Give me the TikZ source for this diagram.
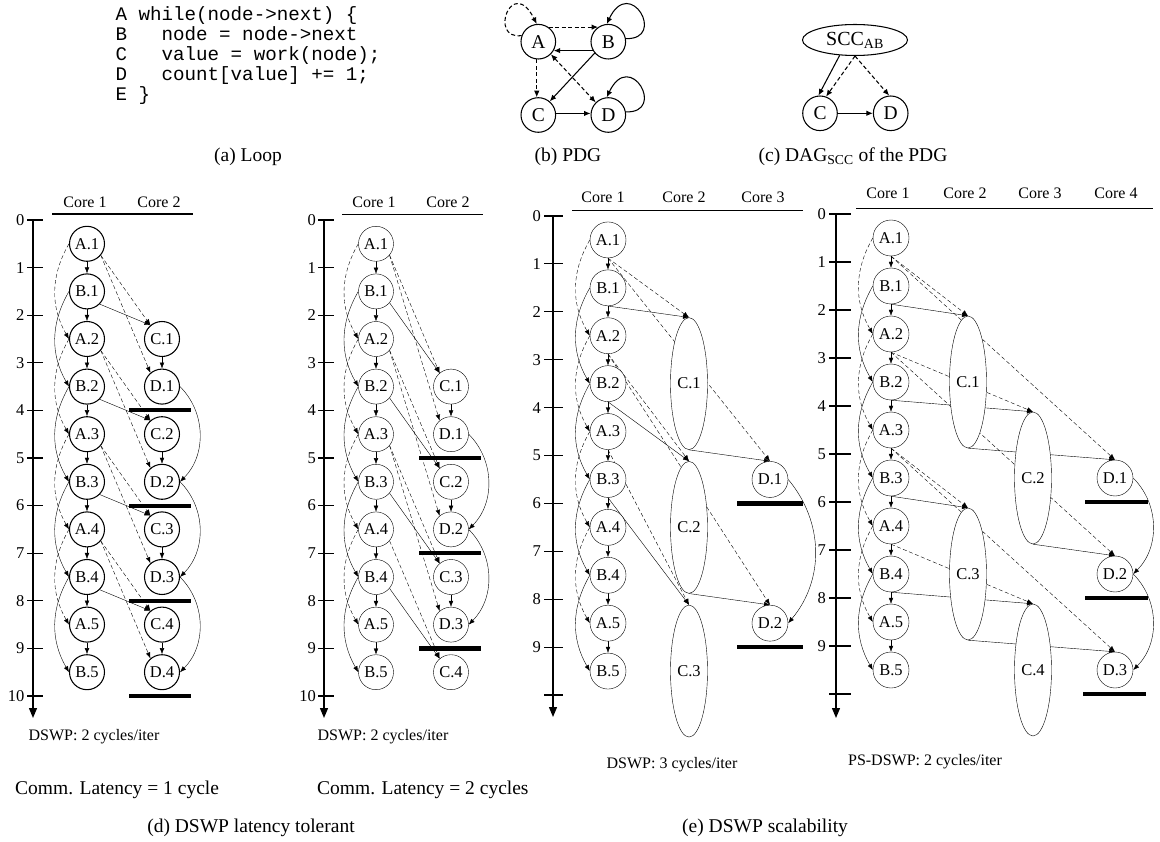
\documentclass[tikz,border=0pt]{standalone}
\usepackage{fontspec}
\setmainfont{Liberation Serif}
\setmonofont{Liberation Mono}
\usetikzlibrary{arrows.meta,shapes.geometric,backgrounds}
\begin{document}
\begin{tikzpicture}[x=1pt,y=-1pt,line width=1.05pt,
  cn/.style={circle,draw,fill=white,minimum size=35pt,inner sep=0pt,font=\fontsize{16.5}{18}\selectfont},
  ce/.style={ellipse,draw,fill=white,minimum width=37pt,minimum height=132pt,inner sep=0pt,font=\fontsize{16.5}{18}\selectfont},
  pn/.style={circle,draw,fill=white,minimum size=34.6pt,inner sep=0pt,font=\fontsize{19.5}{21}\selectfont},
  arr/.style={-{Latex[length=6pt,width=4.6pt]}},
  parr/.style={-{Latex[length=6.5pt,width=5.5pt]}},
  parrb/.style={{Latex[length=6.5pt,width=5.5pt]}-{Latex[length=6.5pt,width=5.5pt]}},
  dsh/.style={dash pattern=on 4pt off 2.5pt},
  barln/.style={line width=4.2pt},
  axisln/.style={line width=1.3pt,-{Triangle[length=10pt,width=8pt]}},
  tickln/.style={line width=1.2pt},
  smalltxt/.style={font=\fontsize{16}{18}\selectfont},
  ticklab/.style={font=\fontsize{16.5}{18}\selectfont,anchor=east,inner sep=0pt},
  captxt/.style={font=\fontsize{19.5}{22}\selectfont},
  codetxt/.style={font=\ttfamily\fontsize{19.2}{20}\selectfont,anchor=base west,inner sep=0pt}]
\useasboundingbox (0,0) rectangle (1160,842);

% ---------------- (a) loop ----------------
\node[codetxt] (l1) at (115,20.7) {A while(node->next) \{};
\node[codetxt] (l2) at (115,40.7) {B\ \ \ node = node->next};
\node[codetxt] (l3) at (115,60.7) {C\ \ \ value = work(node);};
\node[codetxt] (l4) at (115,81) {D\ \ \ count[value] += 1;};
\node[codetxt] (l5) at (115,100.7) {E \}};
\node[captxt] (capa) at (248,157) {(a) Loop};

% ---------------- (b) PDG ----------------
\node[pn] (PA) at (538.3,41.7) {A};
\node[pn] (PB) at (608.3,41.7) {B};
\node[pn] (PC) at (538.3,115) {C};
\node[pn] (PD) at (608.3,115) {D};
\draw[parr,dsh] (PA.160) .. controls (488,40) and (512,-25) .. (PA.95);
\draw[parr] (PB.10) .. controls (667,40) and (630,-25) .. (PB.95);
\draw[parr] (PD.10) .. controls (667,113.3) and (630,48.3) .. (PD.95);
\draw[parr,dsh] (PA.55) -- (PB.125);
\draw[parr] (PB.210) -- (PA.-30);
\draw[parr] (PB.220) -- (PC.50);
\draw[parrb,dsh] (PA.-45) -- (PD.135);
\draw[parr,dsh] (PA.265) -- (PC.95);
\draw[parr] (PC.5) -- (PD.175);
\node[captxt] (capb) at (568,157) {(b) PDG};

% ---------------- (c) DAG ----------------
\node[ellipse,draw,fill=white,minimum width=105pt,minimum height=31pt,inner sep=0pt,font=\fontsize{20}{22}\selectfont] (SCC) at (855,40) {SCC\textsubscript{AB}};
\node[pn] (QC) at (820,113.3) {C};
\node[pn] (QD) at (890.7,113.3) {D};
\draw[parr] (SCC.225) -- (QC.95);
\draw[parr,dsh] (SCC.270) -- (QC.70);
\draw[parr,dsh] (SCC.270) -- (QD.95);
\draw[parr] (QC) -- (QD);
\node[captxt] (capc) at (853,157) {(c) DAG\textsubscript{SCC} of the PDG};

% ---------------- (d1) ----------------
\draw[axisln] (33,220) -- (33,718);
\foreach \t in {0,...,10}{
  \draw[tickln] (27,{220+\t*47.6}) -- (43,{220+\t*47.6});
  \node[ticklab] (pt\t) at (25,{220+\t*47.6}) {\t};}
\node[smalltxt] (ph1) at (85,202) {Core 1};
\node[smalltxt] (ph2) at (159,202) {Core 2};
\draw (52,214) -- (193,214);
\foreach \k in {1,...,5}{
  \node[cn] (pA\k) at (87,{220+(2*\k-1.5)*47.6}) {A.\k};
  \node[cn] (pB\k) at (87,{220+(2*\k-0.5)*47.6}) {B.\k};}
\foreach \k in {1,...,4}{
  \node[cn] (pC\k) at (162,{220+(2*\k+0.5)*47.6}) {C.\k};
  \node[cn] (pD\k) at (162,{220+(2*\k+1.5)*47.6}) {D.\k};}
\foreach \t in {4,6,8,10} \draw[barln] (129,{220+\t*47.6}) -- (191,{220+\t*47.6});
\begin{pgfonlayer}{background}
\foreach \k [evaluate=\k as \n using int(\k+1)] in {1,...,4}{
  \draw[arr] (pA\k) -- (pB\k);
  \draw[arr] (pB\k) -- (pA\n);
  \draw[arr,dsh] (pA\k.west) to[bend right=30] (pA\n.west);
  \draw[arr] (pB\k.west) to[bend right=30] (pB\n.west);
  \draw[arr,dsh] (pA\k.-40) -- (pC\k.130);
  \draw[arr,dsh] (pA\k.-40) -- (pD\k.130);
  \draw[arr] (pB\k.-45) -- (pC\k.130);
  \draw[arr] (pC\k) -- (pD\k);}
\draw[arr] (pA5) -- (pB5);
\foreach \k [evaluate=\k as \n using int(\k+1)] in {1,2,3}
  \draw[arr] (pD\k.east) to[bend left=45] (pD\n.east);
\end{pgfonlayer}
\node[smalltxt] (plab) at (94,737) {DSWP: 2 cycles/iter};
\node[captxt,anchor=west,inner sep=0pt] (pcomm) at (15,790) {Comm. Latency = 1 cycle};

% ---------------- (d2) ----------------
\draw[axisln] (324,220) -- (324,718);
\foreach \t in {0,...,10}{
  \draw[tickln] (318,{220+\t*47.6}) -- (334,{220+\t*47.6});
  \node[ticklab] (qt\t) at (316,{220+\t*47.6}) {\t};}
\node[smalltxt] (qh1) at (374,202) {Core 1};
\node[smalltxt] (qh2) at (448,202) {Core 2};
\draw (342,214) -- (483,214);
\foreach \k in {1,...,5}{
  \node[cn] (qA\k) at (376,{220+(2*\k-1.5)*47.6}) {A.\k};
  \node[cn] (qB\k) at (376,{220+(2*\k-0.5)*47.6}) {B.\k};}
\foreach \k in {1,...,4}
  \node[cn] (qC\k) at (451,{220+(2*\k+1.5)*47.6}) {C.\k};
\foreach \k in {1,2,3}
  \node[cn] (qD\k) at (451,{220+(2*\k+2.5)*47.6}) {D.\k};
\foreach \t in {5,7,9} \draw[barln] (419,{220+\t*47.6}) -- (481,{220+\t*47.6});
\begin{pgfonlayer}{background}
\foreach \k [evaluate=\k as \n using int(\k+1)] in {1,...,4}{
  \draw[arr] (qA\k) -- (qB\k);
  \draw[arr] (qB\k) -- (qA\n);
  \draw[arr,dsh] (qA\k.west) to[bend right=30] (qA\n.west);
  \draw[arr] (qB\k.west) to[bend right=30] (qB\n.west);
  \draw[arr,dsh] (qA\k.-40) -- (qC\k.130);
  \draw[arr] (qB\k.-40) -- (qC\k.130);}
\foreach \k in {1,2,3}{
  \draw[arr,dsh] (qA\k.-40) -- (qD\k.130);
  \draw[arr] (qC\k) -- (qD\k);}
\draw[arr] (qA5) -- (qB5);
\foreach \k [evaluate=\k as \n using int(\k+1)] in {1,2}
  \draw[arr] (qD\k.east) to[bend left=45] (qD\n.east);
\end{pgfonlayer}
\node[smalltxt] (qlab) at (383,737) {DSWP: 2 cycles/iter};
\node[captxt,anchor=west,inner sep=0pt] (qcomm) at (317,790) {Comm. Latency = 2 cycles};
\node[captxt] (capd) at (251,828) {(d) DSWP latency tolerant};

% ---------------- (e1) ----------------
\draw[axisln] (553,216) -- (553,717);
\foreach \t in {0,...,10}
  \draw[tickln] (544,{216+\t*47.9}) -- (563,{216+\t*47.9});
\foreach \t in {0,...,9}
  \node[ticklab] (rt\t) at (541,{216+\t*47.9}) {\t};
\node[smalltxt] (rh1) at (603,197) {Core 1};
\node[smalltxt] (rh2) at (684,197) {Core 2};
\node[smalltxt] (rh3) at (763,197) {Core 3};
\draw (572,210.7) -- (803,210.7);
\foreach \k in {1,...,5}{
  \node[cn,minimum size=36pt] (rA\k) at (608,{216+(2*\k-1.5)*47.9}) {A.\k};
  \node[cn,minimum size=36pt] (rB\k) at (608,{216+(2*\k-0.5)*47.9}) {B.\k};}
\foreach \k in {1,2,3}
  \node[ce] (rC\k) at (689,{216+(3*\k+0.5)*47.9}) {C.\k};
\foreach \k in {1,2}
  \node[cn,minimum size=36pt] (rD\k) at (770,{216+(3*\k+2.5)*47.9}) {D.\k};
\foreach \t in {6,9} \draw[barln] (737,{216+\t*47.9}) -- (803,{216+\t*47.9});
\begin{pgfonlayer}{background}
\foreach \k [evaluate=\k as \n using int(\k+1)] in {1,...,4}{
  \draw[arr] (rA\k) -- (rB\k);
  \draw[arr] (rB\k) -- (rA\n);
  \draw[arr,dsh] (rA\k.west) to[bend right=30] (rA\n.west);
  \draw[arr] (rB\k.west) to[bend right=30] (rB\n.west);}
\draw[arr] (rA5) -- (rB5);
\foreach \k in {1,2,3}{
  \draw[arr,dsh] (rA\k.south) -- (rC\k.north);
  \draw[arr] (rB\k.south) -- (rC\k.north);}
\foreach \k in {1,2}{
  \draw[arr,dsh] (rA\k.south) -- (rD\k.north);
  \draw[arr] (rC\k.south) -- (rD\k.north);}
\draw[arr] (rD1.east) to[bend left=40] (rD2.east);
\end{pgfonlayer}
\node[smalltxt] (rlab) at (672,765) {DSWP: 3 cycles/iter};

% ---------------- (e2) ----------------
\draw[axisln] (836,214) -- (836,718);
\foreach \t in {0,...,10}
  \draw[tickln] (829,{214+\t*48}) -- (851,{214+\t*48});
\foreach \t in {0,...,9}
  \node[ticklab] (st\t) at (826,{214+\t*48}) {\t};
\node[smalltxt] (sh1) at (888,193) {Core 1};
\node[smalltxt] (sh2) at (965,193) {Core 2};
\node[smalltxt] (sh3) at (1040,193) {Core 3};
\node[smalltxt] (sh4) at (1116,193) {Core 4};
\draw (856,208) -- (1153,208);
\foreach \k in {1,...,5}{
  \node[cn,minimum size=36pt] (sA\k) at (891,{214+(2*\k-1.5)*48}) {A.\k};
  \node[cn,minimum size=36pt] (sB\k) at (891,{214+(2*\k-0.5)*48}) {B.\k};}
\node[ce] (sC1) at (968,382) {C.1};
\node[ce] (sC2) at (1033,478) {C.2};
\node[ce] (sC3) at (968,574) {C.3};
\node[ce] (sC4) at (1033,670) {C.4};
\foreach \k in {1,2,3}
  \node[cn,minimum size=36pt] (sD\k) at (1115,{214+(2*\k+3.5)*48}) {D.\k};
\draw[barln] (1085,502) -- (1148,502);
\draw[barln] (1085,598) -- (1148,598);
\draw[barln] (1083,694) -- (1146,694);
\begin{pgfonlayer}{background}
\foreach \k [evaluate=\k as \n using int(\k+1)] in {1,...,4}{
  \draw[arr] (sA\k) -- (sB\k);
  \draw[arr] (sB\k) -- (sA\n);
  \draw[arr,dsh] (sA\k.west) to[bend right=30] (sA\n.west);
  \draw[arr] (sB\k.west) to[bend right=30] (sB\n.west);
  \draw[arr,dsh] (sA\k.south) -- (sC\k.north);
  \draw[arr] (sB\k.south) -- (sC\k.north);}
\draw[arr] (sA5) -- (sB5);
\foreach \k in {1,2,3}{
  \draw[arr,dsh] (sA\k.south) -- (sD\k.north);
  \draw[arr] (sC\k.south) -- (sD\k.north);}
\foreach \k [evaluate=\k as \n using int(\k+1)] in {1,2}
  \draw[arr] (sD\k.east) to[bend left=45] (sD\n.east);
\end{pgfonlayer}
\node[smalltxt] (slab) at (925,762) {PS-DSWP: 2 cycles/iter};
\node[captxt,anchor=west,inner sep=0pt] (cape) at (682,828) {(e) DSWP scalability};
\end{tikzpicture}
\end{document}
